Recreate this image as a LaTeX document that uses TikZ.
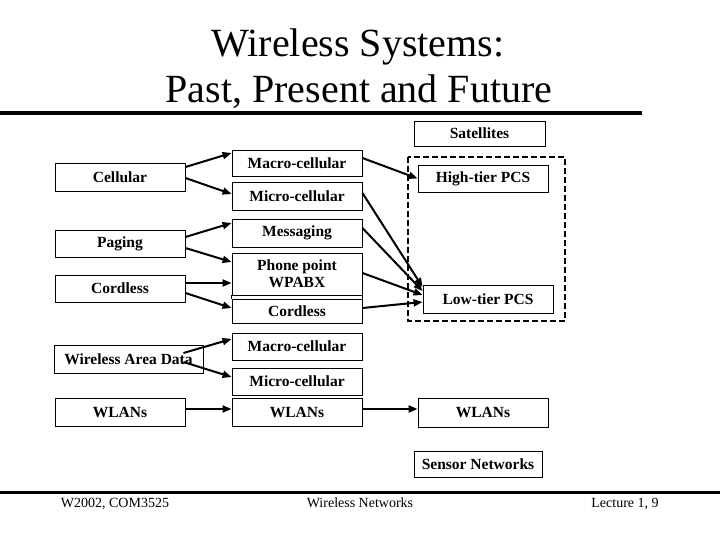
\documentclass[tikz,border=0pt]{standalone}
\usepackage{fontspec}
\setmainfont{Liberation Serif}
\usetikzlibrary{arrows.meta,calc}
\begin{document}
\begin{tikzpicture}[x=1pt,y=-1pt,
  bx/.style={draw, line width=0.9pt, inner sep=0pt, font=\fontsize{15.5}{17}\selectfont\bfseries, align=center},
  lbox/.style={bx, minimum width=130pt},
  arr/.style={line width=2pt, -{Triangle[length=9pt,width=7pt]}},
  ttl/.style={anchor=base, font=\fontsize{40}{46}\selectfont},
  foot/.style={anchor=base, font=\fontsize{14}{16}\selectfont},
]
\useasboundingbox (0,0) rectangle (720,540);
\fill[white] (0,0) rectangle (720,540);

% title
\node[ttl] (t1) at (358,57) {Wireless Systems:};
\node[ttl] (t2) at (359,103) {Past, Present and Future};
\draw[line width=4pt] (0,113) -- (642,113);

% footer
\draw[line width=3pt] (0,492) -- (720,492);
\node[foot] (f1) at (115,507) {W2002, COM3525};
\node[foot] (f2) at (360,507) {Wireless Networks};
\node[foot] (f3) at (625,507) {Lecture 1, 9};

% left column
\node[lbox, minimum height=28pt] (cell) at (120,177) {Cellular};
\node[lbox, minimum height=27pt] (pag) at (120,243.5) {Paging};
\node[lbox, minimum height=27pt] (cordl) at (120,288.5) {Cordless};
\node[bx, minimum width=149pt, minimum height=28pt] (wad) at (128.5,359) {Wireless Area Data};
\node[lbox, minimum height=28pt] (wlanl) at (120,412) {WLANs};

% middle column
\node[lbox, minimum height=26pt] (mac1) at (297,163) {Macro-cellular};
\node[lbox, minimum height=28pt] (mic1) at (297,196) {Micro-cellular};
\node[lbox, minimum height=28pt] (mes) at (297,233) {Messaging};
\node[lbox, minimum height=42pt] (phone) at (297,274) {Phone point\\WPABX};
\node[lbox, minimum height=24pt] (cordm) at (297,311) {Cordless};
\draw[line width=0.9pt] (phone.south west) -- (cordm.north west);
\draw[line width=0.9pt] (phone.south east) -- (cordm.north east);
\node[lbox, minimum height=27pt] (mac2) at (297,346.5) {Macro-cellular};
\node[lbox, minimum height=27pt] (mic2) at (297,381.5) {Micro-cellular};
\node[lbox, minimum height=28pt] (wlanm) at (297,412) {WLANs};

% right column
\node[bx, minimum width=131pt, minimum height=25pt] (sat) at (479.5,133.5) {Satellites};
\draw[line width=1.8pt, dash pattern=on 6pt off 3pt] (408,157) rectangle (565,321);
\node[lbox, minimum height=27pt] (high) at (483,178.5) {High-tier PCS};
\node[lbox, minimum height=28pt] (low) at (488,299) {Low-tier PCS};
\node[lbox, minimum height=29pt] (wlanr) at (483,412.5) {WLANs};
\node[bx, minimum width=128pt, minimum height=26pt] (sens) at (478,464) {Sensor Networks};

% arrows left -> middle
\draw[arr] ($(cell.east)+(0,-10)$) -- ($(mac1.west)+(0,-10)$);
\draw[arr] ($(cell.east)+(0,1)$) -- ($(mic1.west)+(0,-2)$);
\draw[arr] ($(pag.east)+(0,-6.5)$) -- ($(mes.west)+(0,-10)$);
\draw[arr] ($(pag.east)+(0,4.5)$) -- ($(phone.west)+(0,-12)$);
\draw[arr] ($(cordl.east)+(0,-5.5)$) -- ($(phone.west)+(0,9)$);
\draw[arr] ($(cordl.east)+(0,4.5)$) -- ($(cordm.west)+(0,-3)$);
\draw[arr] ($(wad.east)+(-20,-6)$) -- ($(mac2.west)+(0,-7.5)$);
\draw[arr] ($(wad.east)+(-20,3)$) -- ($(mic2.west)+(0,-4.5)$);
\draw[arr] ($(wlanl.east)+(0,-3)$) -- ($(wlanm.west)+(0,-3)$);

% arrows middle -> right
\draw[arr] ($(wlanm.east)+(0,-3)$) -- ($(wlanr.west)+(0,-3.5)$);
\draw[arr] ($(mac1.east)+(0,-5)$) -- (high.west);
\draw[arr] ($(mic1.east)+(0,-3)$) -- ($(low.west)+(0,-12)$);
\draw[arr] ($(mes.east)+(0,-5)$) -- ($(low.west)+(0,-8)$);
\draw[arr] ($(phone.east)+(0,-1)$) -- ($(low.west)+(0,-4)$);
\draw[arr] ($(cordm.east)+(0,-3)$) -- ($(low.west)+(0,3)$);
\end{tikzpicture}
\end{document}
